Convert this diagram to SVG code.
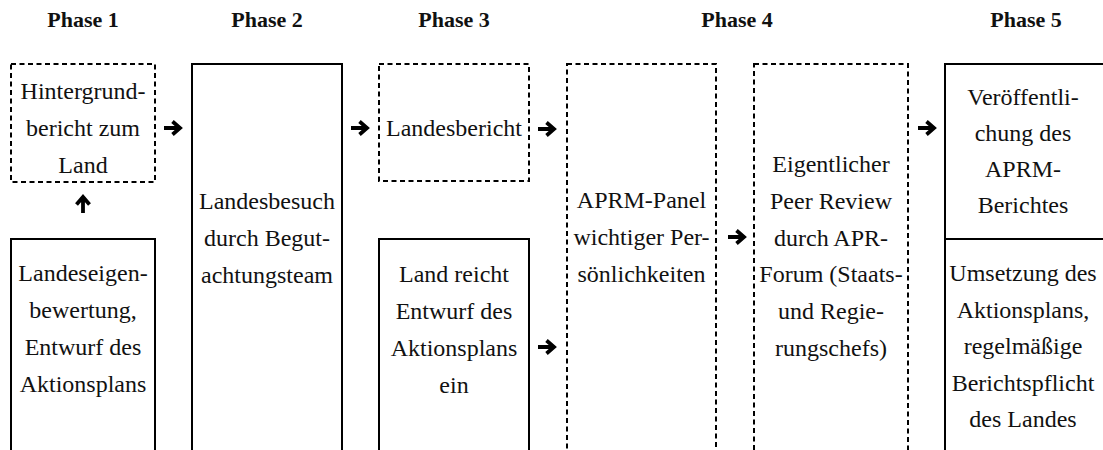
<svg xmlns="http://www.w3.org/2000/svg" xmlns:xlink="http://www.w3.org/1999/xlink" width="1103" height="450" viewBox="0 0 1103 450">
<style>
.bg{fill:#fff}
.solid{fill:#fff;stroke:#000;stroke-width:2}
.dash{fill:#fff;stroke:#000;stroke-width:2;stroke-dasharray:5 3.5}
.t{font-family:"Liberation Serif","Times New Roman","DejaVu Serif",serif;font-size:24px;fill:#111;text-anchor:middle}
.h{font-family:"Liberation Serif","Times New Roman","DejaVu Serif",serif;font-size:22px;font-weight:bold;fill:#111;text-anchor:middle}
.arr{fill:none;stroke:#000;stroke-width:3.8;stroke-linejoin:miter;stroke-linecap:butt}
</style>
<defs>
<g id="arrR"><path class="arr" d="M-9,0 H6 M-0.5,-6.5 L7,0 L-0.5,6.5"/></g>
</defs>
<rect class="bg" x="0" y="0" width="1103" height="450"/>
<g id="headers">
<text class="h" x="83" y="27">Phase 1</text>
<text class="h" x="267" y="27">Phase 2</text>
<text class="h" x="454" y="27">Phase 3</text>
<text class="h" x="737" y="27">Phase 4</text>
<text class="h" x="1026" y="27">Phase 5</text>
</g>
<g id="n1">
<rect class="dash" x="11" y="64" width="144" height="118"/>
<text class="t" x="83" y="99">Hintergrund-</text>
<text class="t" x="83" y="136">bericht zum</text>
<text class="t" x="83" y="173">Land</text>
</g>
<g id="n2">
<rect class="solid" x="11" y="239" width="144" height="260"/>
<text class="t" x="83" y="281">Landeseigen-</text>
<text class="t" x="83" y="318">bewertung,</text>
<text class="t" x="83" y="355">Entwurf des</text>
<text class="t" x="83" y="392">Aktionsplans</text>
</g>
<g id="n3">
<rect class="solid" x="192" y="64" width="150" height="430"/>
<text class="t" x="267" y="209">Landesbesuch</text>
<text class="t" x="267" y="246">durch Begut-</text>
<text class="t" x="267" y="283">achtungsteam</text>
</g>
<g id="n4">
<rect class="dash" x="379" y="64" width="150" height="117"/>
<text class="t" x="454" y="136">Landesbericht</text>
</g>
<g id="n5">
<rect class="solid" x="379" y="239" width="150" height="260"/>
<text class="t" x="454" y="282">Land reicht</text>
<text class="t" x="454" y="319">Entwurf des</text>
<text class="t" x="454" y="356">Aktionsplans</text>
<text class="t" x="454" y="393">ein</text>
</g>
<g id="n6">
<rect class="dash" x="567" y="64" width="149" height="430"/>
<text class="t" x="641.5" y="208">APRM-Panel</text>
<text class="t" x="641.5" y="245">wichtiger Per-</text>
<text class="t" x="641.5" y="282">sönlichkeiten</text>
</g>
<g id="n7">
<rect class="dash" x="754" y="64" width="154" height="430"/>
<text class="t" x="831" y="172">Eigentlicher</text>
<text class="t" x="831" y="209">Peer Review</text>
<text class="t" x="831" y="246">durch APR-</text>
<text class="t" x="831" y="282">Forum (Staats-</text>
<text class="t" x="831" y="319">und Regie-</text>
<text class="t" x="831" y="356">rungschefs)</text>
</g>
<g id="n8">
<rect class="solid" x="945" y="64" width="170" height="175"/>
<text class="t" x="1023" y="105">Veröffentli-</text>
<text class="t" x="1023" y="141">chung des</text>
<text class="t" x="1023" y="177">APRM-</text>
<text class="t" x="1023" y="213">Berichtes</text>
</g>
<g id="n9">
<rect class="solid" x="945" y="239" width="170" height="260"/>
<text class="t" x="1023" y="281">Umsetzung des</text>
<text class="t" x="1023" y="317.5">Aktionsplans,</text>
<text class="t" x="1023" y="354">regelmäßige</text>
<text class="t" x="1023" y="390.5">Berichtspflicht</text>
<text class="t" x="1023" y="427">des Landes</text>
</g>
<g id="connectors">
<use xlink:href="#arrR" href="#arrR" transform="translate(173,128)"/>
<use xlink:href="#arrR" href="#arrR" transform="translate(360,128)"/>
<use xlink:href="#arrR" href="#arrR" transform="translate(547,129)"/>
<use xlink:href="#arrR" href="#arrR" transform="translate(547,347)"/>
<use xlink:href="#arrR" href="#arrR" transform="translate(737,237)"/>
<use xlink:href="#arrR" href="#arrR" transform="translate(927,128)"/>
<use xlink:href="#arrR" href="#arrR" transform="translate(83,204) rotate(-90)"/>
</g>
</svg>
